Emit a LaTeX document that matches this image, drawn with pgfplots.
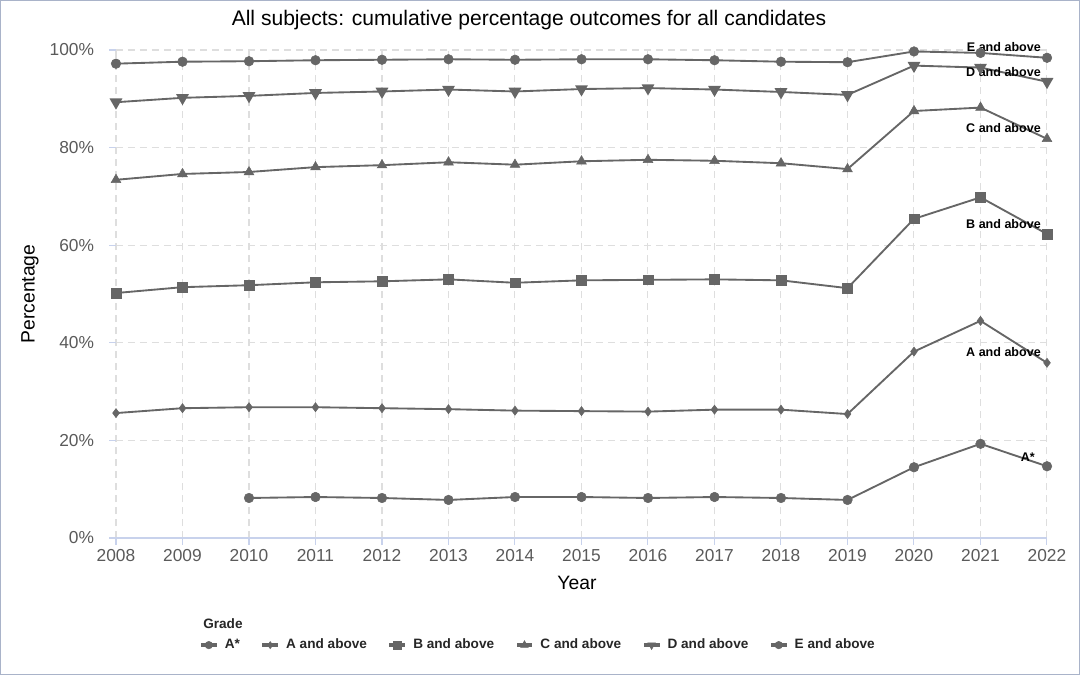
\documentclass[border=0pt]{standalone}
\usepackage{pgfplots}
\pgfplotsset{compat=1.18}
\usepackage{fontspec}
\setmainfont{Liberation Sans}
\definecolor{linegray}{HTML}{666666}
\definecolor{gridgray}{HTML}{DEDEDE}
\definecolor{axisblue}{HTML}{C8D2EC}
\definecolor{tickgray}{HTML}{5A5A5A}
\definecolor{framecol}{HTML}{A9B3C9}

\pgfplotstableread{
year Astar A B C D E
2008 nan 25.6 50.2 73.4 89.3 97.2
2009 nan 26.6 51.4 74.6 90.2 97.6
2010 8.2 26.8 51.8 75.0 90.6 97.7
2011 8.4 26.8 52.4 76.0 91.2 97.9
2012 8.2 26.6 52.6 76.4 91.5 98.0
2013 7.8 26.4 53.0 77.0 91.9 98.1
2014 8.4 26.1 52.3 76.5 91.5 98.0
2015 8.4 26.0 52.8 77.2 92.0 98.1
2016 8.2 25.9 52.9 77.5 92.2 98.1
2017 8.4 26.3 53.0 77.3 91.9 97.9
2018 8.2 26.3 52.8 76.8 91.4 97.6
2019 7.8 25.4 51.2 75.6 90.8 97.5
2020 14.5 38.2 65.4 87.5 96.8 99.7
2021 19.3 44.5 69.8 88.2 96.4 99.4
2022 14.7 35.9 62.3 81.8 93.5 98.4
}\datatable

\begin{document}
\begin{tikzpicture}
\draw[framecol, line width=0.8pt] (-86.6pt,-102.35pt) rectangle (722.6pt,403.1pt);
\begin{axis}[
  at={(0,0)}, anchor=south west,
  scale only axis,
  width=698.25pt, height=366pt,
  xmin=2008, xmax=2022, ymin=0, ymax=100,
  xtick={2008,2009,...,2022},
  ytick={0,20,40,60,80,100},
  yticklabel={\pgfmathprintnumber{\tick}\%},
  /pgf/number format/assume math mode=true,
  /pgf/number format/1000 sep={},
  clip=false,
  axis x line*=bottom,
  axis y line*=left,
  x axis line style={draw=axisblue, line width=0.8pt},
  y axis line style={draw=none},
  tick style={draw=axisblue, line width=0.8pt},
  major tick length=5pt,
  xtick align=outside, ytick align=outside,
  grid=major,
  major grid style={draw=gridgray, dash pattern=on 5pt off 4pt, line width=0.8pt},
  ticklabel style={font=\fontsize{13}{15}\selectfont, text=tickgray},
  yticklabel style={xshift=-8pt},
  cycle list={{linegray}},
  every axis plot/.append style={line width=1.4pt, color=linegray, mark options={solid, fill=linegray, draw=linegray, line width=0.4pt}},
  legend columns=6,
  legend cell align=left,
  legend style={draw=none, fill=none, at={(rel axis cs:0.0912,-0.2195)}, anchor=west,
    inner sep=0pt, outer sep=0pt,
    font=\bfseries\fontsize{10.2}{12}\selectfont,
    nodes={inner sep=0pt, text=black!85, text height=7.4pt, text depth=2.2pt},
    /tikz/every odd column/.append style={column sep=6pt},
    /tikz/every even column/.append style={column sep=16.8pt}},
  legend image code/.code={
    \fill[linegray] (0pt,-0.85pt) rectangle (10.5pt,0.85pt);
    \draw[#1, line width=0.4pt, every mark/.append style={scale=0.78}] plot coordinates {(5.25pt,0pt)};
  },
]
\addplot[linegray, mark=*, mark size=3.6pt] table[x=year, y=Astar] {\datatable};
\addlegendentry{A*}
\addplot[linegray, mark=diamond*, mark size=3.4pt] table[x=year, y=A] {\datatable};
\addlegendentry{A and above}
\addplot[linegray, mark=square*, mark size=3.6pt] table[x=year, y=B] {\datatable};
\addlegendentry{B and above}
\addplot[linegray, mark=triangle*, mark size=4.2pt] table[x=year, y=C] {\datatable};
\addlegendentry{C and above}
\addplot[linegray, mark=triangle*, mark size=4.2pt, mark options={rotate=180}] table[x=year, y=D] {\datatable};
\addlegendentry{D and above}
\addplot[linegray, mark=*, mark size=3.6pt] table[x=year, y=E] {\datatable};
\addlegendentry{E and above}

\node[font=\bfseries\fontsize{9.4}{11}\selectfont, anchor=east, inner sep=0pt] at (axis cs:2021.91,100.6) {E and above};
\node[font=\bfseries\fontsize{9.4}{11}\selectfont, anchor=east, inner sep=0pt] at (axis cs:2021.91,95.5) {D and above};
\node[font=\bfseries\fontsize{9.4}{11}\selectfont, anchor=east, inner sep=0pt] at (axis cs:2021.91,84.0) {C and above};
\node[font=\bfseries\fontsize{9.4}{11}\selectfont, anchor=east, inner sep=0pt] at (axis cs:2021.91,64.3) {B and above};
\node[font=\bfseries\fontsize{9.4}{11}\selectfont, anchor=east, inner sep=0pt] at (axis cs:2021.91,38.1) {A and above};
\node[font=\bfseries\fontsize{9.4}{11}\selectfont, anchor=east, inner sep=0pt] at (axis cs:2021.82,16.6) {A*};
\end{axis}
\node[font=\fontsize{15.8}{18}\selectfont] at (309.75pt,388.5pt) {All subjects: cumulative percentage outcomes for all candidates};
\node[font=\bfseries\fontsize{10.2}{12}\selectfont, anchor=west, inner sep=0pt, text=black!85] at (65.25pt,-64.5pt) {Grade};
\node[font=\fontsize{14.5}{17}\selectfont, rotate=90] at (-64.5pt,183pt) {Percentage};
\node[font=\fontsize{14.5}{17}\selectfont] at (345.75pt,-33.75pt) {Year};
\end{tikzpicture}
\end{document}
